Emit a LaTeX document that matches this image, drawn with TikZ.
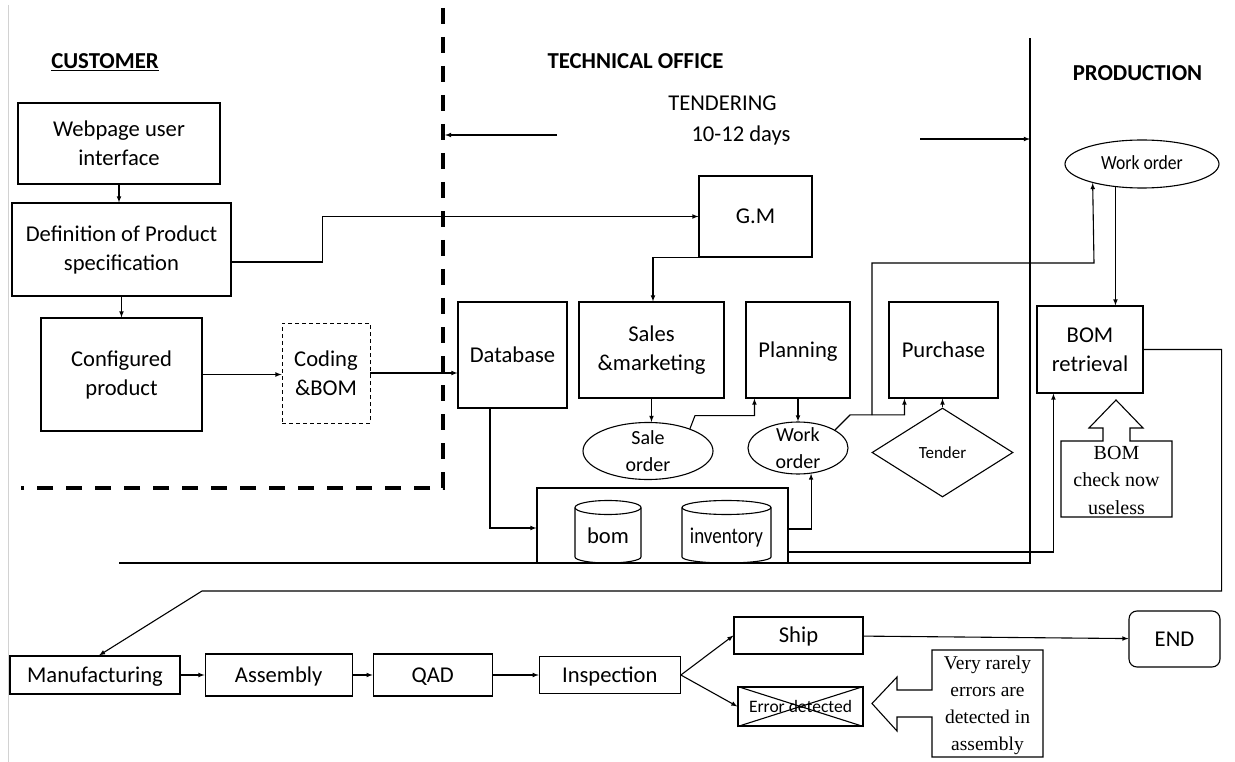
\documentclass[tikz,border=0pt]{standalone}
\usepackage{fontspec}
\setmainfont{Carlito}
\newfontfamily\timesfont{Liberation Serif}
\usepackage{tikz}
\usetikzlibrary{shapes,positioning,arrows}

\begin{document}
\begin{tikzpicture}[
    x=1pt, y=-1pt,
    font=\fontsize{22.6}{29}\selectfont,
    line width=1.1pt,
    >=latex,
    box/.style args={#1/#2}{
        rectangle, draw, inner sep=0pt, align=center,
        minimum width=#1pt, minimum height=#2pt
    },
    oval/.style args={#1/#2}{
        ellipse, draw, inner sep=0pt,
        minimum width=#1pt, minimum height=#2pt
    },
    one/.style={text height=19.5pt, text depth=5pt},
    onesmall/.style={text height=15pt, text depth=4pt},
    lbl/.style={align=center, font=\fontsize{20}{26.5}\selectfont},
    head/.style={font=\fontsize{22.8}{26}\selectfont\bfseries},
    note/.style={align=center, font=\timesfont\fontsize{19.5}{27}\selectfont},
    pics/drum/.style args={#1/#2}{
        code={
            \draw (-#1,-24) -- (-#1,25.5)
                arc[start angle=180, end angle=360, x radius=#1pt, y radius=6pt]
                -- (#1,-24);
            \draw (0,-24) ellipse[x radius=#1pt, y radius=7pt];
            \node[one] (-txt) at (0,5) {#2};
        }
    }
    ]
    \useasboundingbox (0,0) rectangle (1235,762);
    \draw[gray!35, line width=0.8pt] (8,5) -- (8,762);

    \node[head, anchor=base] (cust) at (105,69) {\underline{CUSTOMER}};
    \node[head, anchor=base] (tech) at (635.5,69) {TECHNICAL OFFICE};
    \node[head, anchor=base] (prod) at (1137.5,81) {PRODUCTION};
    \node[anchor=base] (tend) at (722.5,111) {TENDERING};
    \node[anchor=base] (days) at (741,142) {10-12 days};

    \draw[line width=4pt, dash pattern=on 16pt off 13pt] (443,8) -- (443,488) -- (21,488);
    \draw (119,563) -- (1030,563) -- (1030,38);
    \draw[->] (557,135) -- (445,135);
    \draw[->] (920,139) -- (1030,139);

    \node[box=202/81] (web) at (119,143.5) {Webpage user\\interface};
    \node[box=219/93] (spec) at (121.5,249.5) {Definition of Product\\specification};
    \node[box=161/113] (conf) at (121.5,374.5) {Configured\\product};
    \node[box=88/100, line width=0.9pt, dash pattern=on 4pt off 3pt] (code) at (326,373) {Coding\\\&BOM};

    \node[box=109/106, one] (db) at (512.5,355) {Database};
    \node[box=113/81, one] (gm) at (755.5,216.5) {G.M};
    \node[box=145/96] (sales) at (651.5,350) {Sales\\\&marketing};
    \node[box=104/96, one] (plan) at (798,350) {Planning};
    \node[box=109/96, one] (buy) at (943.5,350) {Purchase};
    \node[oval=130/57, label={[lbl]center:{Sale\\order}}] (so) at (648,451) {};
    \node[oval=100/52, label={[lbl]center:{Work\\order}}] (wo) at (798,448) {};
    \node[diamond, draw, inner sep=0pt, minimum width=141pt, minimum height=89pt, onesmall,
        font=\fontsize{17}{20}\selectfont] (tender) at (942.5,452.5) {Tender};
    \node[box=251/75] (store) at (662.5,525.5) {};
    \pic (bom) at (608,531.5) {drum=33/bom};
    \pic (inv) at (726.5,531.5) {drum=44.5/{\scalebox{0.84}[1]{inventory}}};

    \node[oval=154/48, label={[lbl, onesmall]center:{\scalebox{0.88}[1]{Work order}}}] (pwo) at (1142,164) {};
    \node[box=106/87] (bomret) at (1090,349.5) {BOM\\retrieval};
    \node[note, font=\timesfont\fontsize{20}{27.5}\selectfont] (chk) at (1116.5,480) {BOM\\check now\\useless};
    \draw (1103,441) -- (1061,441) -- (1061,517) -- (1172,517) -- (1172,441) -- (1130,441)
        -- (1130,428) -- (1143,428) -- (1116,400) -- (1089,428) -- (1103,428) -- cycle;

    \node[box=170/38, one] (mfg) at (95,675) {Manufacturing};
    \node[box=147/42, one, right=24pt of mfg] (asm) {Assembly};
    \node[box=119/42, one, right=20pt of asm] (qad) {QAD};
    \node[box=141/37, one, right=46pt of qad] (insp) {Inspection};
    \node[box=129/37, one] (ship) at (798.5,635.5) {Ship};
    \node[box=125/39, onesmall, font=\fontsize{17.5}{20}\selectfont] (err) at (800.5,706.5) {Error detected};
    \node[box=91/56, one, rounded corners=8pt] (end) at (1174.5,639) {END};
    \node[note] (rare) at (987.5,705) {Very rarely\\errors are\\detected in\\assembly};
    \draw (932,690) -- (932,650) -- (1043,650) -- (1043,757) -- (932,757) -- (932,717)
        -- (897,717) -- (897,731) -- (872,703.5) -- (897,677) -- (897,690) -- cycle;

    \coordinate (split) at (872,415);
    \coordinate (turn) at (202,591);

    \draw[->] (web.south) -- (web.south |- spec.north);
    \draw[->] ([yshift=-12.5pt]spec.east) -- ++(91,0) |- (gm.west);
    \draw[->] (spec.south) -- (spec.south |- conf.north);
    \draw[->] (conf.east) -- (conf.east -| code.west);
    \draw[->] (code.east) -- (code.east -| db.west);
    \draw[->] (gm.south west) -| ([xshift=1.5pt]sales.north);
    \draw[->] (sales.south) -- (sales.south |- so.north);
    \draw[->] (so.28) -- ++(5,-13) -| ([xshift=9pt]plan.south west);
    \draw[->] (plan.south) -- (wo.north);
    \draw[->] (wo.26) -- ++(15,-15) -| ([xshift=16pt]buy.south west);
    \draw[->] (split) |- (1094,263) -- (pwo.201);
    \draw[->] (tender.north) -- (tender.north |- buy.south);
    \draw[->] (pwo.221) -- (pwo.221 |- bomret.north);
    \draw[->] ([xshift=-22.5pt]db.south) |- ([yshift=-2.5pt]store.west);
    \draw[->] ([yshift=-3.5pt]store.east) -| (wo.297);
    \draw[->] ([yshift=-26.5pt]store.east) -| ([xshift=17pt]bomret.south west);
    \draw[->] (bomret.east) -- ++(78,0) |- (turn) -- ([xshift=4pt]mfg.north);

    \draw[->] (mfg) -- (asm);
    \draw[->] (asm) -- (qad);
    \draw[->] (qad) -- (insp);
    \draw[->] (insp.east) -- (ship.west);
    \draw[->] (insp.east) -- (err.west);
    \draw[->] (ship) -- (end);
    \draw (err.north west) -- (err.south east) (err.south west) -- (err.north east);
\end{tikzpicture}
\end{document}
